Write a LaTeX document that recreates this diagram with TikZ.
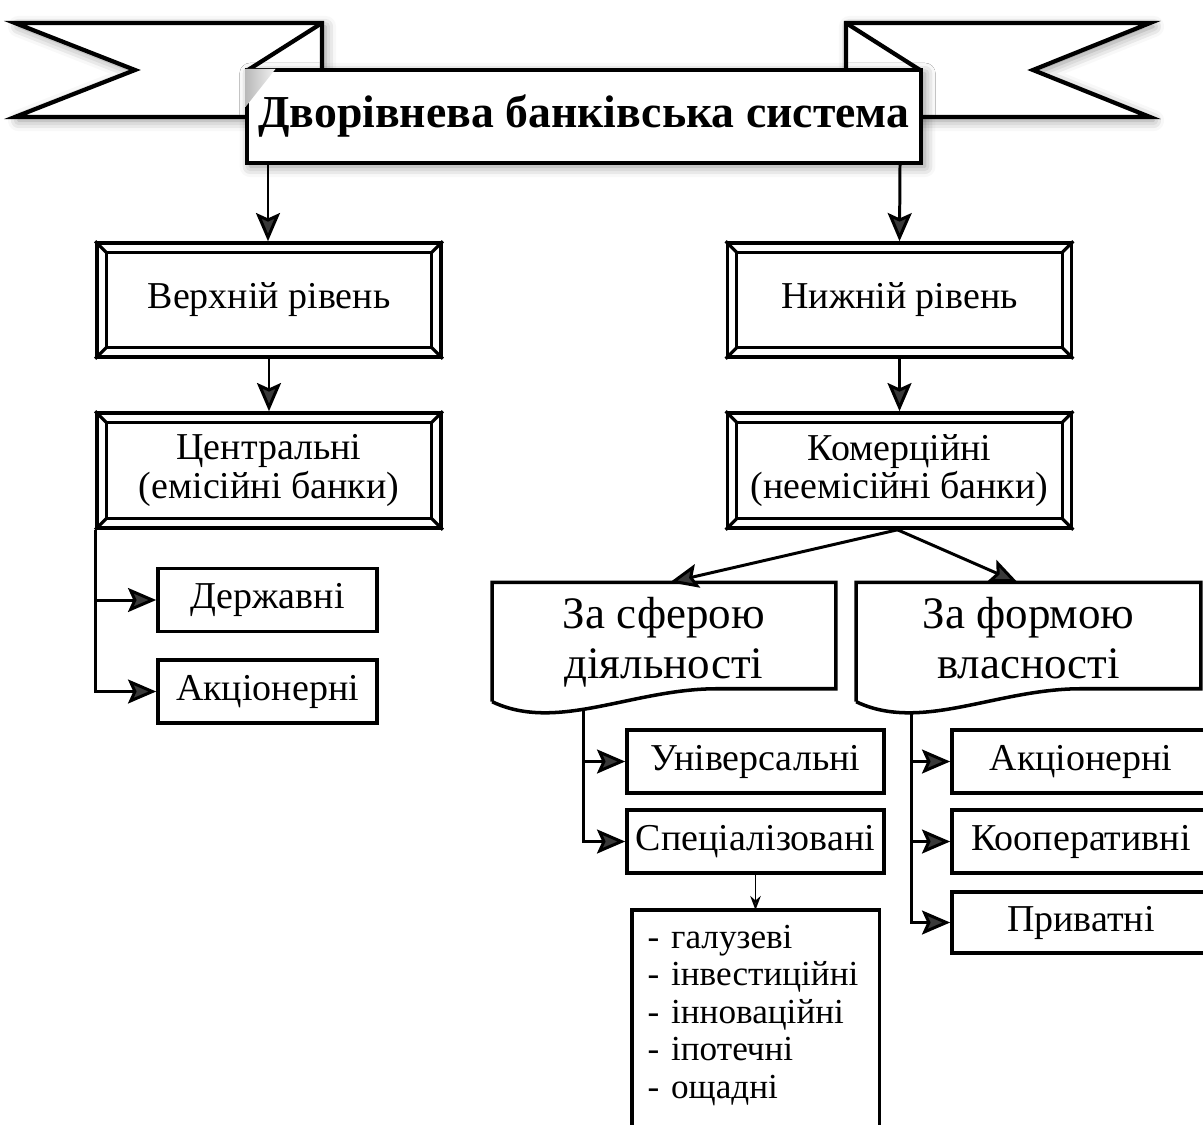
\documentclass[tikz,border=0pt]{standalone}
\usepackage{fontspec}
\setmainfont{Liberation Serif}
\usetikzlibrary{positioning, arrows.meta, calc, shadows.blur}

% inner bevelled frame of a level box
\newcommand{\bevel}[1]{%
  \draw[frame] ($(#1.south west)+(11,11)$) rectangle ($(#1.north east)+(-11,-11)$);
  \draw[frame] (#1.south west) -- ++(11,11) (#1.south east) -- ++(-11,11)
    (#1.north west) -- ++(11,-11) (#1.north east) -- ++(-11,-11);
}
% page outline with a wavy bottom
\newcommand{\docpage}[1]{%
  \draw[boxline] ($(#1.south west)+(0,-13)$) -- (#1.north west) -- (#1.north east) -- (#1.south east)
    -- ($(#1.south west)+(225,0)$) .. controls ($(#1.south west)+(140,0)$) and ($(#1.south west)+(65,-44)$) .. ($(#1.south west)+(0,-13)$);
}

\begin{document}
\begin{tikzpicture}[x=0.01cm, y=0.01cm,
  frame/.style={line width=0.9pt},
  boxline/.style={line width=1pt},
  ribbon/.style={draw, line width=1.2pt, fill=white, line join=miter, blur shadow={shadow blur radius=3pt, shadow xshift=1pt, shadow yshift=-1pt, shadow opacity=45}},
  titlebox/.style={draw, line width=1.2pt, fill=white, minimum width=6.72cm, minimum height=0.93cm, font=\bfseries\fontsize{13}{15}\selectfont, blur shadow={shadow blur radius=3pt, shadow xshift=1pt, shadow yshift=-1pt, shadow opacity=45}},
  levelbox/.style={draw, line width=1pt, minimum width=3.44cm, minimum height=1.14cm, align=center, font=\fontsize{10.8}{11}\selectfont},
  smallbox/.style={draw, line width=1pt, minimum height=0.63cm, align=center, font=\fontsize{10.8}{11}\selectfont, inner sep=1pt},
  pagebox/.style={minimum width=3.42cm, minimum height=1.05cm, align=center, inner ysep=0pt, text height=27pt, text depth=2.7pt, font=\fontsize{12.8}{14.2}\selectfont},
  listbox/.style={anchor=north west, align=left, text width=2.16cm, inner xsep=0.15cm, inner ysep=0.14cm, font=\fontsize{10}{10.7}\selectfont},
  arr/.style={-{Stealth[length=8pt, width=6.8pt, inset=1.5pt]}, line width=0.85pt},
  thinarr/.style={-{Stealth[length=4pt, width=3pt]}, line width=0.5pt}
]
  \useasboundingbox (0,0) rectangle (1203,-1124);

  % ribbons behind the title
  \draw[ribbon] (15,-23) -- (322,-23) -- (322,-117) -- (15,-117) -- (135,-70) -- cycle;
  \draw[frame, line width=1.2pt] (322,-23) -- (248,-70);
  \draw[ribbon] (1150,-23) -- (846,-23) -- (846,-117) -- (1150,-117) -- (1033,-70) -- cycle;
  \draw[frame, line width=1.2pt] (846,-23) -- (920,-70);

  \node[titlebox] (title) at (584,-116.5) {Дворівнева банківська система};
  \shade[left color=gray!55, right color=gray!10] ([shift={(1,-1)}]title.north west) -- ++(30,0) -- ++(-30,-38) -- cycle;

  % levels
  \node[levelbox] (upper) at (269,-300) {Верхній рівень};
  \node[levelbox] (lower) at (899.5,-300) {Нижній рівень};
  \node[levelbox, minimum height=1.15cm] (central) at (269,-470.5) {Центральні\\(емісійні банки)};
  \node[levelbox, minimum height=1.15cm] (commercial) at (899.5,-470.5) {Комерційні\\(неемісійні банки)};
  \foreach \b in {upper, lower, central, commercial} {\bevel{\b}}

  \node[smallbox, minimum width=2.19cm] (state) at (267.5,-600) {Державні};
  \node[smallbox, minimum width=2.19cm] (jointleft) at (267.5,-691.5) {Акціонерні};

  % groups of commercial banks
  \node[pagebox] (sphere) at (664,-635.5) {За сферою\\діяльності};
  \node[pagebox, minimum width=3.43cm] (form) at (1028.5,-635.5) {За формою\\власності};
  \docpage{sphere}
  \docpage{form}

  \node[smallbox, minimum width=2.57cm] (universal) at (755.5,-761.5) {Універсальні};
  \node[smallbox, minimum width=2.57cm] (special) at (755.5,-841.5) {Спеціалізовані};
  \node[listbox] (kinds) at (632,-910) {- галузеві\\- інвестиційні\\- інноваційні\\- іпотечні\\- ощадні};
  \coordinate (cut) at (0,-1135);
  \draw[boxline] (kinds.north west |- cut) -- (kinds.north west) -- (kinds.north east) -- (kinds.north east |- cut);

  \node[smallbox, minimum width=2.58cm] (jointright) at (1081,-761.5) {Акціонерні};
  \node[smallbox, minimum width=2.58cm] (coop) at (1081,-841.5) {Кооперативні};
  \node[smallbox, minimum width=2.58cm, minimum height=0.61cm] (private) at (1081,-922.5) {Приватні};

  % connectors
  \draw[arr] (title.south west -| 268,0) -- (upper.north -| 268,0);
  \draw[arr] (title.south east -| 900,0) -- (lower.north);
  \draw[arr] (upper) -- (central);
  \draw[arr] (lower) -- (commercial);

  \draw[arr] (central.south west) |- (jointleft.west);
  \draw[arr] (central.south west |- state.west) -- (state.west);

  \draw[arr] ([xshift=-0.02cm]commercial.south) -- ([xshift=0.06cm]sphere.north);
  \draw[arr] ([xshift=-0.02cm]commercial.south) -- ([xshift=-0.11cm]form.north);

  \coordinate (sphereout) at ($(sphere.south west)+(91,-22)$);
  \draw[arr] (sphereout) |- (special.west);
  \draw[arr] (sphereout |- universal.west) -- (universal.west);
  \draw[thinarr] (special.south) -- (kinds.north -| special.south);

  \coordinate (formout) at ($(form.south west)+(55,-24)$);
  \draw[arr] (formout) |- (private.west);
  \draw[arr] (formout |- jointright.west) -- (jointright.west);
  \draw[arr] (formout |- coop.west) -- (coop.west);
\end{tikzpicture}
\end{document}
